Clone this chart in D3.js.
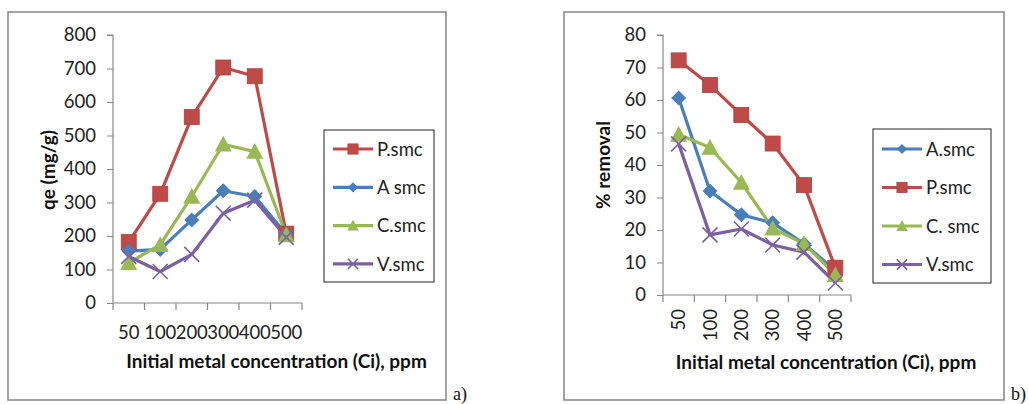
<!DOCTYPE html>
<html><head><meta charset="utf-8">
<script src="https://cdn.jsdelivr.net/npm/d3@7"></script>
<style>body{margin:0;background:#fff;} svg{display:block;}</style>
</head><body>
<svg id="c" width="1028" height="404"></svg>
<script>
const categories = ["50","100","200","300","400","500"];
// chart a) qe (mg/g)
const qeTicks = [0,100,200,300,400,500,600,700,800];
const qeP = [182, 326, 555, 703, 677, 207];
const qeA = [155, 160, 248, 335, 318, 205];
const qeC = [120, 174, 318, 474, 452, 203];
const qeV = [139, 94, 145, 268, 307, 196];
// chart b) % removal
const remTicks = [0,10,20,30,40,50,60,70,80];
const remA = [60.6, 32, 24.7, 22.2, 15.8, 7.5];
const remP = [72.2, 64.6, 55.4, 46.6, 33.8, 8.4];
const remC = [49.4, 45.4, 34.6, 20.5, 15.8, 6.2];
const remV = [46.5, 18.5, 20.3, 15.4, 13.2, 3.7];

const colors = {P:"#BE4B48", A:"#4A7EBB", C:"#98B954", V:"#7D60A0"};
const svg = d3.select("#c");
const FONT = "Lato, 'Open Sans', sans-serif";
const TICKFS = 18.5, LEGFS = 18.5, TITLEFS = 19;

function marker(g, type, x, y, size, color) {
  if (type === "square") {
    g.append("rect").attr("x", x - size/2).attr("y", y - size/2).attr("width", size).attr("height", size)
      .attr("fill", color).attr("stroke", d3.color(color).darker(0.3)).attr("stroke-width", 0.8);
  } else if (type === "diamond") {
    const s = size/2;
    g.append("path").attr("d", `M${x},${y-s}L${x+s},${y}L${x},${y+s}L${x-s},${y}Z`).attr("fill", color);
  } else if (type === "triangle") {
    const s = size/2;
    g.append("path").attr("d", `M${x},${y-s}L${x+s},${y+s*0.85}L${x-s},${y+s*0.85}Z`).attr("fill", color);
  } else if (type === "x") {
    const s = size/2;
    g.append("path").attr("d", `M${x-s},${y-s}L${x+s},${y+s}M${x-s},${y+s}L${x+s},${y-s}`)
      .attr("stroke", color).attr("stroke-width", 1.6).attr("fill", "none");
  }
}

function drawChart(cfg) {
  const g = svg.append("g");
  g.append("rect").attr("x", cfg.frame[0]).attr("y", cfg.frame[1]).attr("width", cfg.frame[2]).attr("height", cfg.frame[3])
    .attr("fill", "none").attr("stroke", "#8c8c8c").attr("stroke-width", 1.6);
  const x = d3.scaleBand().domain(categories).range([cfg.x0, cfg.x1]);
  const y = d3.scaleLinear().domain([0, cfg.ymax]).range([cfg.y0, cfg.y1]);

  const ya = g.append("g").attr("transform", `translate(${cfg.x0},0)`)
    .call(d3.axisLeft(y).tickValues(cfg.ticks).tickSize(6).tickPadding(11));
  ya.select(".domain").attr("stroke", "#888").attr("stroke-width", 1.2).attr("d", `M-6,${cfg.y1}H0V${cfg.y0}`);
  ya.selectAll(".tick line").attr("stroke", "#888");
  ya.selectAll("text").attr("font-family", FONT).attr("font-size", TICKFS).attr("fill", "#222");

  const xa = g.append("g").attr("transform", `translate(0,${cfg.y0})`)
    .call(d3.axisBottom(x).tickSize(0).tickPadding(0));
  xa.select(".domain").attr("stroke", "#888").attr("stroke-width", 1.2).attr("d", `M${cfg.x0},0H${cfg.x1}`);
  xa.selectAll(".tick line").remove();
  const bounds = categories.map(c => x(c)).concat([cfg.x1]);
  xa.selectAll(".bt").data(bounds).enter().append("line").attr("class","bt")
    .attr("x1", d => d).attr("x2", d => d).attr("y1", 0).attr("y2", 7).attr("stroke", "#888").attr("stroke-width", 1.2);
  const xt = xa.selectAll(".tick text").attr("font-family", FONT).attr("font-size", TICKFS).attr("fill", "#222");
  if (cfg.rotate) {
    xt.attr("transform", "rotate(-90)").attr("text-anchor", "end").attr("x", -14).attr("y", 0).attr("dy", "0.36em");
  } else {
    xt.attr("y", 23).attr("dy", "0.71em");
  }

  g.append("text").attr("x", (cfg.x0 + cfg.x1)/2 + cfg.xtOffset).attr("y", cfg.xtY).attr("text-anchor", "middle")
    .attr("font-family", FONT).attr("font-weight", "bold").attr("font-size", TITLEFS).attr("fill", "#111")
    .text("Initial metal concentration (Ci), ppm");
  g.append("text").attr("transform", `translate(${cfg.ytX},${cfg.ytY}) rotate(-90)`).attr("text-anchor", "middle")
    .attr("font-family", FONT).attr("font-weight", "bold").attr("font-size", TITLEFS).attr("fill", "#111")
    .text(cfg.ytitle);

  const line = d3.line().x((d, i) => x(categories[i]) + x.bandwidth()/2).y(d => y(d));
  cfg.series.forEach(s => {
    g.append("path").datum(s.values).attr("d", line).attr("fill", "none")
      .attr("stroke", s.color).attr("stroke-width", 3.2).attr("stroke-linejoin", "round");
  });
  cfg.series.forEach(s => {
    const mg = g.append("g");
    s.values.forEach((v, i) => marker(mg, s.marker, x(categories[i]) + x.bandwidth()/2, y(v), s.size, s.color));
  });

  const L = cfg.legend;
  g.append("rect").attr("x", L.x).attr("y", L.y).attr("width", L.w).attr("height", L.h)
    .attr("fill", "#fff").attr("stroke", "#222").attr("stroke-width", 1);
  cfg.series.forEach((s, i) => {
    const yy = L.y + L.first + i * L.step;
    g.append("line").attr("x1", L.x + 9).attr("x2", L.x + 49).attr("y1", yy).attr("y2", yy)
      .attr("stroke", s.color).attr("stroke-width", 3.2);
    marker(g, s.marker, L.x + 29, yy, s.size * 0.68, s.color);
    g.append("text").attr("x", L.x + 53).attr("y", yy).attr("dy", "0.36em")
      .attr("font-family", FONT).attr("font-size", LEGFS).attr("fill", "#222").text(s.name);
  });

  g.append("text").attr("x", cfg.tag[0]).attr("y", cfg.tag[1]).attr("font-family", "'Liberation Serif', serif")
    .attr("font-size", 18).attr("fill", "#111").text(cfg.tag[2]);
}

drawChart({
  frame: [8, 12, 438, 388],
  x0: 113, x1: 302, y0: 303, y1: 35, ymax: 800, ticks: qeTicks,
  ytitle: "qe (mg/g)", ytX: 55, ytY: 170, xtY: 368, xtOffset: 69,
  series: [
    {name: "P.smc", values: qeP, color: colors.P, marker: "square", size: 15},
    {name: "A smc", values: qeA, color: colors.A, marker: "diamond", size: 15},
    {name: "C.smc", values: qeC, color: colors.C, marker: "triangle", size: 17},
    {name: "V.smc", values: qeV, color: colors.V, marker: "x", size: 15}
  ],
  legend: {x: 324, y: 130, w: 110, h: 152, first: 19, step: 38.3},
  tag: [453, 400, "a)"]
});

drawChart({
  frame: [564, 12, 440, 388],
  x0: 663, x1: 851, y0: 295, y1: 35, ymax: 80, ticks: remTicks,
  ytitle: "% removal", ytX: 610, ytY: 165, xtY: 369, xtOffset: 69,
  rotate: true,
  series: [
    {name: "A.smc", values: remA, color: colors.A, marker: "diamond", size: 15},
    {name: "P.smc", values: remP, color: colors.P, marker: "square", size: 15},
    {name: "C. smc", values: remC, color: colors.C, marker: "triangle", size: 17},
    {name: "V.smc", values: remV, color: colors.V, marker: "x", size: 15}
  ],
  legend: {x: 873, y: 129, w: 118, h: 154, first: 20, step: 38.5},
  tag: [1011, 400, "b)"]
});
</script>
</body></html>
